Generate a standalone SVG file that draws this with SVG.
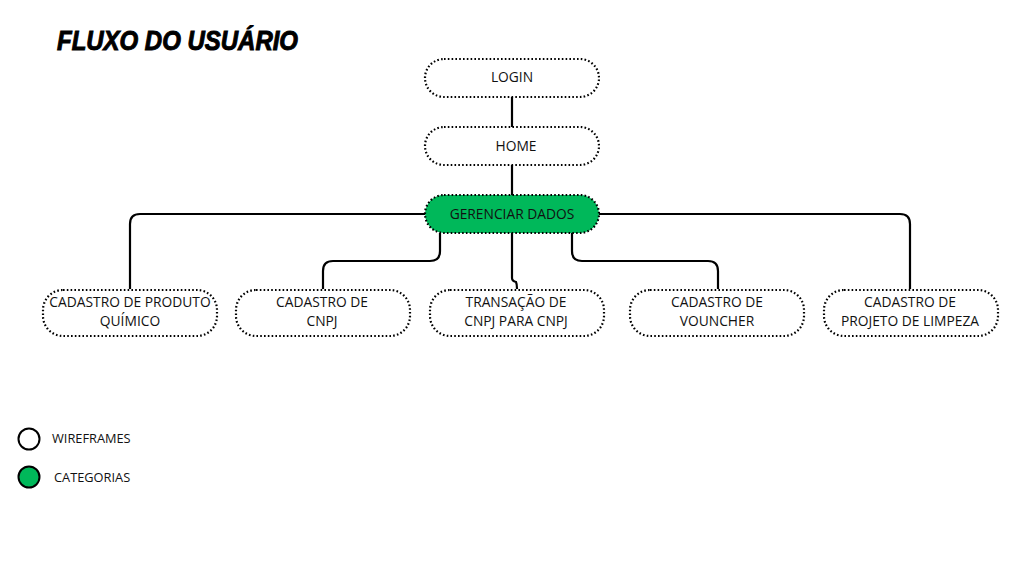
<svg xmlns="http://www.w3.org/2000/svg" width="1024" height="576" viewBox="0 0 1024 576">
<style>
.n{fill:#fff;stroke:#000;stroke-width:2.2;stroke-dasharray:1.6 2.2}
.g{fill:#00b85a}
.t{font-family:"Open Sans","Liberation Sans",sans-serif;font-size:13.8px;fill:#111;text-anchor:middle}
.c{fill:none;stroke:#000;stroke-width:2.2}
.l{font-family:"Open Sans","Liberation Sans",sans-serif;font-size:12.8px;fill:#111}
</style>
<rect width="1024" height="576" fill="#fff"/>
<text x="57" y="50" font-family="'Liberation Sans',sans-serif" font-weight="900" font-style="italic" font-size="27" fill="#000" stroke="#000" stroke-width="1" textLength="241" lengthAdjust="spacingAndGlyphs">FLUXO DO USUÁRIO</text>
<g id="connectors">
<path class="c" d="M512 97V127M512 165V195"/>
<path class="c" d="M425 214H140Q130 214 130 224V289"/>
<path class="c" d="M440 233V251Q440 261 430 261H333Q323 261 323 271V289"/>
<path class="c" d="M512 233V278Q512 281 516 282Q517 284 517 289"/>
<path class="c" d="M572 233V251Q572 261 582 261H708Q718 261 718 271V289"/>
<path class="c" d="M599 214H900Q910 214 910 224V289"/>
</g>
<g id="login"><rect class="n" x="425" y="59" width="174" height="38" rx="19"/><text class="t" x="512" y="82">LOGIN</text></g>
<g id="home"><rect class="n" x="425" y="127" width="174" height="38" rx="19"/><text class="t" x="516" y="151">HOME</text></g>
<g id="gerenciar"><rect class="n g" x="425" y="195" width="174" height="38" rx="19"/><text class="t" x="512" y="219">GERENCIAR DADOS</text></g>
<g id="n1"><rect class="n" x="43" y="290" width="174" height="46" rx="20"/><text class="t" x="130" y="307">CADASTRO DE PRODUTO</text><text class="t" x="130" y="326">QUÍMICO</text></g>
<g id="n2"><rect class="n" x="236" y="290" width="174" height="46" rx="20"/><text class="t" x="322" y="307">CADASTRO DE</text><text class="t" x="322" y="326">CNPJ</text></g>
<g id="n3"><rect class="n" x="430" y="290" width="174" height="46" rx="20"/><text class="t" x="516" y="307">TRANSAÇÃO DE</text><text class="t" x="516" y="326">CNPJ PARA CNPJ</text></g>
<g id="n4"><rect class="n" x="630" y="290" width="174" height="46" rx="20"/><text class="t" x="717" y="307">CADASTRO DE</text><text class="t" x="717" y="326">VOUNCHER</text></g>
<g id="n5"><rect class="n" x="824" y="290" width="174" height="46" rx="20"/><text class="t" x="910" y="307">CADASTRO DE</text><text class="t" x="910" y="326">PROJETO DE LIMPEZA</text></g>
<g id="legend">
<circle cx="29" cy="439" r="10.5" fill="#fff" stroke="#000" stroke-width="2"/>
<text class="l" x="52" y="443">WIREFRAMES</text>
<circle cx="29" cy="477" r="10.5" fill="#00b85a" stroke="#000" stroke-width="2"/>
<text class="l" x="54" y="482">CATEGORIAS</text>
</g>
</svg>
